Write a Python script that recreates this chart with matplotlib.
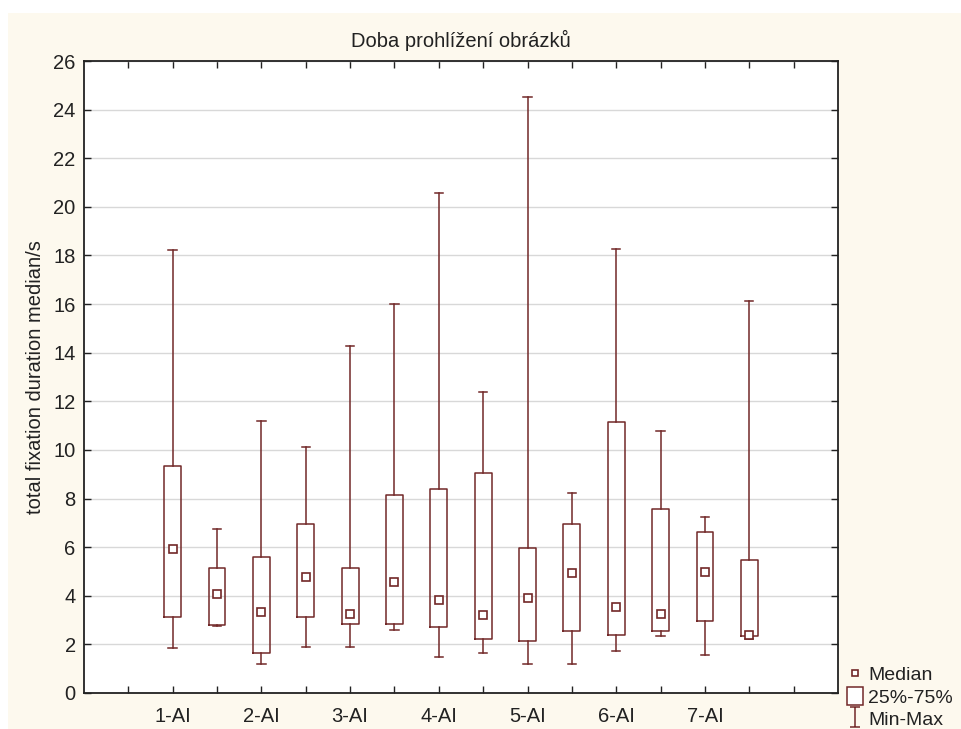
import matplotlib

matplotlib.use("Agg")
import matplotlib.pyplot as plt
from matplotlib.lines import Line2D
from matplotlib.patches import Patch, Rectangle
from matplotlib.path import Path

# Box summaries (seconds)
positions = [2, 3, 4, 5, 6, 7, 8, 9, 10, 11, 12, 13, 14, 15]
mins = [1.85, 2.74, 1.20, 1.90, 1.90, 2.60, 1.46, 1.64, 1.20, 1.20, 1.71, 2.35, 1.57, 2.24]
q1s = [3.12, 2.78, 1.64, 3.12, 2.85, 2.85, 2.72, 2.22, 2.15, 2.53, 2.40, 2.53, 2.98, 2.33]
medians = [5.94, 4.09, 3.33, 4.79, 3.26, 4.55, 3.83, 3.20, 3.90, 4.93, 3.53, 3.27, 4.98, 2.38]
q3s = [9.35, 5.15, 5.59, 6.94, 5.15, 8.15, 8.41, 9.04, 5.98, 6.94, 11.15, 7.57, 6.61, 5.46]
maxs = [18.22, 6.74, 11.20, 10.12, 14.27, 16.00, 20.57, 12.37, 24.52, 8.22, 18.28, 10.76, 7.26, 16.12]

tick_positions = list(range(1, 17))
tick_labels = ["", "1-AI", "", "2-AI", "", "3-AI", "", "4-AI", "", "5-AI",
               "", "6-AI", "", "7-AI", "", ""]

BOX_COLOR = "#722828"
TEXT_COLOR = "#222222"

plt.rcParams["font.family"] = "Liberation Sans"

fig = plt.figure(figsize=(9.61, 7.29), dpi=100, facecolor="white")
# cream panel behind the chart, with a thin white margin on top/left
fig.patches.append(
    Rectangle((8 / 961, 0), 1, 1 - 13 / 729, transform=fig.transFigure,
              facecolor="#fdf9ee", edgecolor="none", zorder=-10)
)

ax = fig.add_axes([0.0874, 0.0494, 0.7846, 0.8669])
ax.set_facecolor("white")

stats = []
for lo, a, m, b, hi in zip(mins, q1s, medians, q3s, maxs):
    stats.append({"whislo": lo, "q1": a, "med": m, "q3": b, "whishi": hi, "fliers": []})

ax.bxp(
    stats,
    positions=positions,
    widths=0.38,
    capwidths=0.19,
    showfliers=False,
    boxprops=dict(color=BOX_COLOR, linewidth=1.1),
    whiskerprops=dict(color=BOX_COLOR, linewidth=1.1),
    capprops=dict(color=BOX_COLOR, linewidth=1.1),
    medianprops=dict(linestyle="none"),
    manage_ticks=False,
    zorder=3,
)
ax.plot(positions, medians, linestyle="none", marker="s", markersize=6,
        markerfacecolor="white", markeredgecolor=BOX_COLOR, markeredgewidth=1.2,
        zorder=4)

ax.set_xlim(0, 17)
ax.set_ylim(0, 26)
ax.set_yticks(range(0, 27, 2))
ax.set_xticks(tick_positions)
ax.set_xticklabels(tick_labels)
ax.tick_params(axis="both", direction="in", length=5, width=1, colors=TEXT_COLOR,
               labelsize=14.5, labelcolor=TEXT_COLOR, top=True, right=True)
ax.tick_params(axis="x", pad=10)
ax.tick_params(axis="y", pad=6)
ax.grid(axis="y", color="#d8d8d8", linewidth=1)
ax.set_axisbelow(True)
for sp in ax.spines.values():
    sp.set_color(TEXT_COLOR)
    sp.set_linewidth(1.3)

ax.set_title("Doba prohlížení obrázků", fontsize=14.5, color=TEXT_COLOR, pad=10)
ax.set_ylabel("total fixation duration median/s", fontsize=14.5, color=TEXT_COLOR,
              labelpad=6)

# legend with an I-shaped min-max glyph
ibar = Path([(-0.5, 1), (0.5, 1), (0, 1), (0, -1), (-0.5, -1), (0.5, -1)],
            [Path.MOVETO, Path.LINETO, Path.MOVETO, Path.LINETO, Path.MOVETO, Path.LINETO])
handles = [
    Line2D([], [], linestyle="none", marker="s", markersize=5, markerfacecolor="white",
           markeredgecolor=BOX_COLOR, markeredgewidth=1.2),
    Patch(facecolor="white", edgecolor=BOX_COLOR, linewidth=1.1),
    Line2D([], [], linestyle="none", marker=ibar, markersize=14, markeredgecolor=BOX_COLOR,
           markeredgewidth=1.1, markerfacecolor="none"),
]
fig.legend(handles, ["Median", "25%-75%", "Min-Max"], loc="lower left",
           bbox_to_anchor=(847 / 961, 0.0), frameon=False, fontsize=14,
           handlelength=0.8, handleheight=1.0, handletextpad=0.3, labelspacing=0.15,
           borderpad=0.0, borderaxespad=0.0, labelcolor=TEXT_COLOR)

fig.savefig("out.png", dpi=100, facecolor=fig.get_facecolor())
